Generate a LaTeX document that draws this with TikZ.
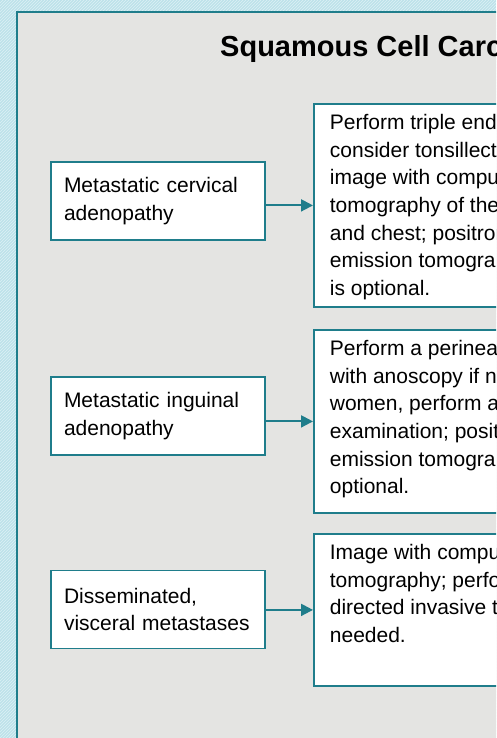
\documentclass[tikz,border=0pt]{standalone}
\usepackage{fontspec}
\setmainfont{Liberation Sans}
\usetikzlibrary{arrows.meta,patterns}
\definecolor{tealline}{HTML}{1F7D8B}
\definecolor{outerbg}{HTML}{BDE2EA}
\definecolor{hatchc}{HTML}{DDF0F5}
\definecolor{panelbg}{HTML}{E4E4E2}
\begin{document}
\begin{tikzpicture}[x=1pt,y=-1pt,
  bodyfont/.style={font=\fontsize{21}{27.6}\selectfont},
  lbox/.style={draw=tealline, line width=1.8pt, fill=white, minimum width=214pt,
    minimum height=78pt, text width=188pt, inner xsep=13pt, inner ysep=0pt,
    align=left, bodyfont},
  rbox/.style={draw=tealline, line width=1.8pt, fill=white, anchor=north west,
    inner xsep=16pt, inner ysep=10.5pt, align=left, bodyfont},
  conn/.style={draw=tealline, line width=2pt, -{Triangle[length=12pt,width=12pt]}}]
\useasboundingbox (0,0) rectangle (496,738);
\clip (0,0) rectangle (496,738);
% outer hatched frame
\fill[outerbg] (0,0) rectangle (496,738);
\fill[pattern=north east lines, pattern color=hatchc] (0,0) rectangle (496,738);
% panel
\draw[tealline, line width=2pt, fill=panelbg] (17,12) rectangle (520,760);
% title
\node[anchor=base west, inner sep=0pt, font=\fontsize{29}{31}\selectfont\bfseries] (title) at (220,57) {Squamous Cell Carc};
% left boxes
\node[lbox] (l1) at (158,201) {Metastatic cervical\\adenopathy};
\node[lbox] (l2) at (158,416) {Metastatic inguinal\\adenopathy};
\node[lbox] (l3) at (158,609.5) {Disseminated,\\visceral metastases};
% right boxes
\node[rbox] (r1) at (313,103) {\parbox[t][182pt][t]{300pt}{Perform triple end\\consider tonsillect\\image with compu\\tomography of the\\and chest; positron\\emission tomogra\\is optional.}};
\node[rbox] (r2) at (313,329) {\parbox[t][162pt][t]{300pt}{Perform a perinea\\with anoscopy if n\\women, perform a\\examination; posit\\emission tomogra\\optional.}};
\node[rbox] (r3) at (313,533) {\parbox[t][131pt][t]{300pt}{Image with compu\\tomography; perfo\\directed invasive t\\needed.}};
% connectors
\draw[conn] (r1.west -| l1.east) -- (r1.west);
\draw[conn] (r2.west -| l2.east) -- (r2.west);
\draw[conn] (r3.west -| l3.east) -- (r3.west);
\end{tikzpicture}
\end{document}
